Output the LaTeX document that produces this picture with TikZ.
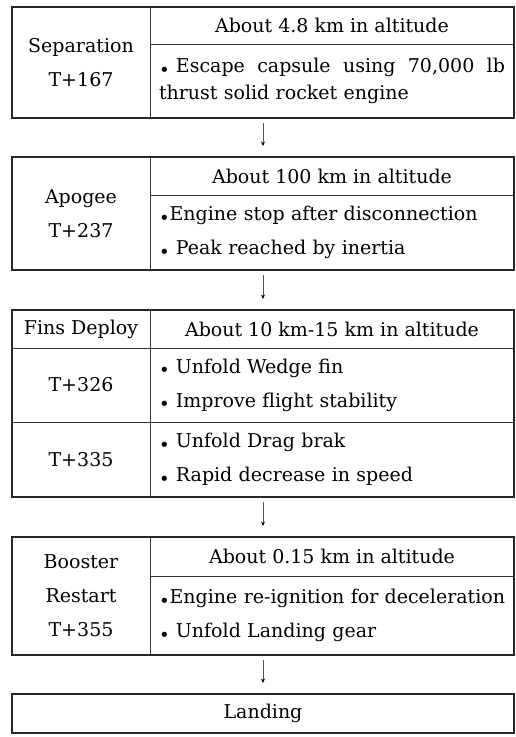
\documentclass[tikz,border=0pt]{standalone}
\usepackage{fontspec}
\setmainfont{DejaVu Serif}
\usetikzlibrary{arrows.meta,positioning,fit}
\newcommand{\bul}{{\fontsize{18}{18}\selectfont\raisebox{-3.5pt}{\textbullet}}}

\begin{document}
\begin{tikzpicture}[font=\fontsize{19}{34}\selectfont,
lcell/.style={draw=black!80,line width=0.8pt,minimum width=138pt,align=center,inner sep=0pt,outer sep=0pt},
hcell/.style={draw=black!80,line width=0.8pt,minimum width=364pt,align=center,inner sep=0pt,outer sep=0pt},
bcell/.style={draw=black!80,line width=0.8pt,text width=346pt,inner xsep=9pt,inner ysep=0pt,outer sep=0pt,align=left},
frame/.style={draw=black!85,line width=1.4pt,inner sep=0pt,outer sep=0pt},
arr/.style={line width=0.7pt,black!65,-{Stealth[length=4.5pt,width=4pt,color=black]},shorten <=5pt,shorten >=11pt}]
\useasboundingbox (0,0) rectangle (516pt,-737pt);
% separation
\node[lcell,minimum height=111pt,anchor=north west] (sepL) at (12pt,-7pt) {Separation\\T+167};
\node[hcell,minimum height=37pt,anchor=north west] (sepH) at (sepL.north east) {About 4.8 km in altitude};
\node[bcell,minimum height=74pt,below=0pt of sepH,font=\fontsize{19}{27}\selectfont] (sepB) {\bul\ Escape\hfill capsule\hfill using\hfill 70,000\hfill lb\\thrust solid rocket engine};
\node[frame,fit=(sepL)(sepH)(sepB)] (sep) {};
% apogee
\node[lcell,minimum height=113pt,below=39pt of sepL] (apoL) {Apogee\\T+237};
\node[hcell,minimum height=38pt,anchor=north west] (apoH) at (apoL.north east) {About 100 km in altitude};
\node[bcell,minimum height=75pt,below=0pt of apoH] (apoB) {\bul Engine stop after disconnection\\\bul\ Peak reached by inertia};
\node[frame,fit=(apoL)(apoH)(apoB)] (apo) {};
% fins deploy
\node[lcell,minimum height=38pt,below=40pt of apoL] (finL) {Fins Deploy};
\node[hcell,minimum height=38pt,anchor=north west] (finH) at (finL.north east) {About 10 km-15 km in altitude};
\node[lcell,minimum height=74pt,below=0pt of finL] (finT1) {T+326};
\node[bcell,minimum height=74pt,anchor=north west] (finB1) at (finT1.north east) {\bul\ Unfold Wedge fin\\\bul\ Improve flight stability};
\node[lcell,minimum height=75pt,below=0pt of finT1] (finT2) {T+335};
\node[bcell,minimum height=75pt,anchor=north west] (finB2) at (finT2.north east) {\bul\ Unfold Drag brak\\\bul\ Rapid decrease in speed};
\node[frame,fit=(finL)(finH)(finB2)] (fin) {};
% booster restart
\node[lcell,minimum height=118pt,below=40pt of finT2] (booL) {Booster\\Restart\\T+355};
\node[hcell,minimum height=39pt,anchor=north west] (booH) at (booL.north east) {About 0.15 km in altitude};
\node[bcell,minimum height=79pt,below=0pt of booH] (booB) {\mbox{\bul Engine re-ignition for deceleration}\\\bul\ Unfold Landing gear};
\node[frame,fit=(booL)(booH)(booB)] (boo) {};
% landing
\node[frame,minimum width=502pt,minimum height=39pt,below right=39pt and 0pt of booL.south west] (land) {Landing};
\draw[arr] (sep) -- (apo);
\draw[arr] (apo) -- (fin);
\draw[arr] (fin) -- (boo);
\draw[arr] (boo) -- (land);
\end{tikzpicture}
\end{document}
